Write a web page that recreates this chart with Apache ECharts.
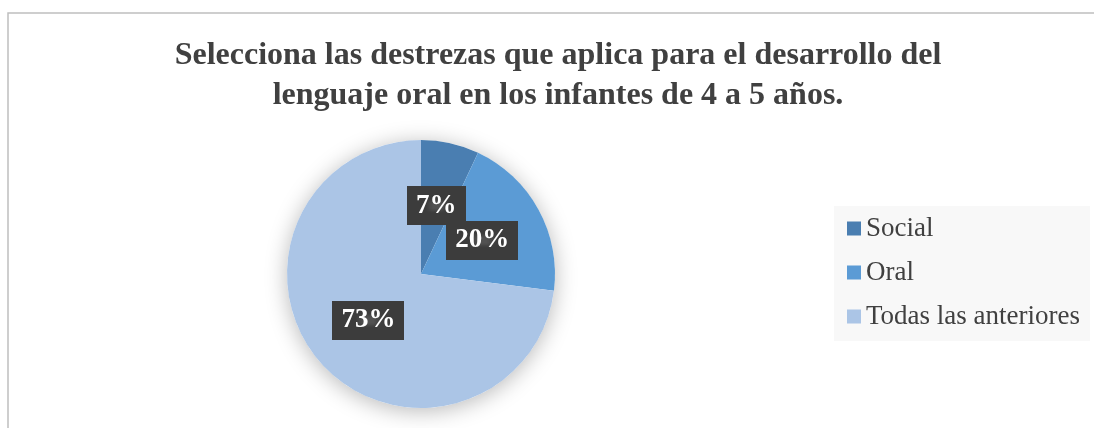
<!DOCTYPE html>
<html>
<head>
<meta charset="utf-8">
<script src="https://cdn.jsdelivr.net/npm/echarts@6/dist/echarts.min.js"></script>
<style>
  html, body { margin: 0; padding: 0; background: #fff; }
  #myChart { width: 1094px; height: 428px; }
</style>
</head>
<body>
<div id="myChart"></div>
<script>
var categories = ["Social", "Oral", "Todas las anteriores"];
var values = [7, 20, 73];
var colors = ["#4a7eb1", "#5b9bd5", "#abc5e6"];
var titleText = "Selecciona las destrezas que aplica para el desarrollo del\nlenguaje oral en los infantes de 4 a 5 años.";

// dotted dark pattern for the label boxes
var pat = document.createElement("canvas");
pat.width = 8;
pat.height = 8;
var pctx = pat.getContext("2d");
pctx.fillStyle = "#3c3c3c";
pctx.fillRect(0, 0, 8, 8);
pctx.fillStyle = "#525252";
pctx.fillRect(3, 3, 2, 2);

var total = values.reduce(function (a, b) { return a + b; }, 0);

var myChart = echarts.init(document.getElementById("myChart"));
var option = {
  backgroundColor: "#ffffff",
  title: {
    text: titleText,
    left: 553,
    top: 31,
    textAlign: "center",
    textStyle: {
      fontFamily: "Liberation Serif",
      fontWeight: "bold",
      fontSize: 32,
      lineHeight: 40,
      color: "#404040"
    }
  },
  legend: {
    orient: "vertical",
    left: 834,
    top: 206,
    padding: [9, 10, 11, 13],
    backgroundColor: "#f8f8f8",
    icon: "rect",
    itemWidth: 14,
    itemHeight: 14,
    itemGap: 17,
    textStyle: {
      fontFamily: "Liberation Serif",
      fontSize: 27,
      lineHeight: 26,
      color: "#404040"
    },
    data: categories
  },
  graphic: [
    {
      type: "rect",
      shape: { x: 8, y: 13, width: 1200, height: 600 },
      style: { fill: "none", stroke: "#bfbfbf", lineWidth: 1.5 },
      silent: true,
      z: -1
    }
  ],
  series: [
    {
      // shadow under the whole pie
      type: "pie",
      center: [421, 274],
      radius: 134,
      silent: true,
      z: 1,
      label: { show: false },
      labelLine: { show: false },
      itemStyle: {
        color: "#ffffff",
        shadowBlur: 22,
        shadowColor: "rgba(0,0,0,0.28)",
        shadowOffsetY: 3
      },
      data: [{ value: total, name: "" }]
    },
    {
      type: "pie",
      center: [421, 274],
      radius: 134,
      z: 2,
      startAngle: 90,
      clockwise: true,
      avoidLabelOverlap: false,
      labelLayout: { hideOverlap: false },
      itemStyle: { borderWidth: 0 },
      label: {
        show: true,
        position: "inside",
        formatter: "{d}%",
        fontFamily: "Liberation Serif",
        fontWeight: "bold",
        fontSize: 27,
        lineHeight: 27,
        color: "#ffffff",
        backgroundColor: { image: pat },
        padding: [7, 9, 5, 9],
        shadowBlur: 6,
        shadowOffsetX: 3,
        shadowOffsetY: 4,
        shadowColor: "rgba(0,0,0,0.45)"
      },
      labelLine: { show: false },
      data: values.map(function (v, i) {
        return { value: v, name: categories[i], itemStyle: { color: colors[i] } };
      })
    }
  ]
};
myChart.setOption(option);
</script>
</body>
</html>
